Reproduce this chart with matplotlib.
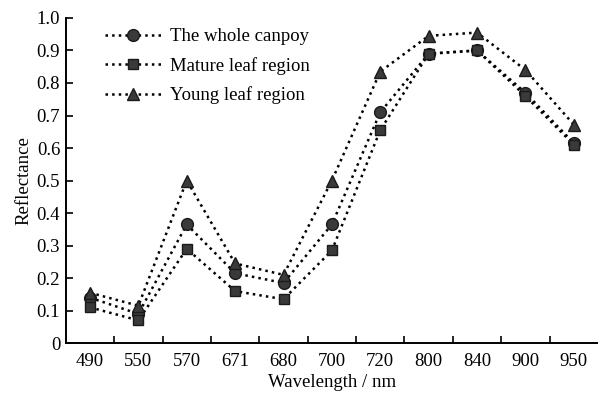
import numpy as np
import matplotlib.pyplot as plt

plt.rcParams['font.family'] = ['Liberation Serif', 'DejaVu Serif']

# wavelength bands (categorical axis)
bands = ['490', '550', '570', '671', '680', '700', '720', '800', '840', '900', '950']

# reflectance
whole_canopy = [0.14, 0.09, 0.365, 0.215, 0.185, 0.365, 0.71, 0.89, 0.90, 0.77, 0.615]
mature_leaf = [0.11, 0.07, 0.29, 0.16, 0.135, 0.285, 0.655, 0.89, 0.90, 0.76, 0.61]
young_leaf = [0.155, 0.115, 0.50, 0.245, 0.21, 0.50, 0.835, 0.945, 0.955, 0.84, 0.672]

fig = plt.figure(figsize=(5.98, 3.99), dpi=100)
ax = fig.add_axes([0.110, 0.140, 0.890, 0.815])

x = np.arange(len(bands))
style = dict(color='black', linestyle=':', linewidth=1.8,
             markerfacecolor='#3a3a3a', markeredgecolor='#1a1a1a')
ax.plot(x, whole_canopy, marker='o', markersize=8.5, label='The whole canpoy', **style)
ax.plot(x, mature_leaf, marker='s', markersize=7.5, label='Mature leaf region', **style)
ax.plot(x, young_leaf, marker='^', markersize=9, label='Young leaf region', **style)

ax.set_xlim(-0.5, len(bands) - 0.5)
ax.set_ylim(0, 1.0)
ax.set_xticks(x)
ax.set_xticklabels(bands)
ax.set_xticks(np.arange(0.5, len(bands) - 0.5), minor=True)
ax.tick_params(axis='x', which='major', length=0, labelsize=13.5, pad=7)
ax.tick_params(axis='x', which='minor', direction='in', length=5, width=1.2)
ax.set_yticks(np.arange(0, 1.01, 0.1))
ax.set_yticklabels(['0'] + ['%.1f' % v for v in np.arange(0.1, 1.01, 0.1)])
ax.tick_params(axis='y', direction='in', length=5, width=1.2, labelsize=13.5, pad=4)

for s in ['top', 'right']:
    ax.spines[s].set_visible(False)
for s in ['left', 'bottom']:
    ax.spines[s].set_linewidth(1.4)

ax.set_xlabel('Wavelength / nm', fontsize=13.5, labelpad=3)
ax.set_ylabel('Reflectance', fontsize=13.5, labelpad=3)

ax.legend(loc='upper left', bbox_to_anchor=(0.042, 1.02), frameon=False,
          fontsize=13.5, handlelength=3.0, labelspacing=0.62, handletextpad=0.45)

fig.savefig('out.png', dpi=100)
